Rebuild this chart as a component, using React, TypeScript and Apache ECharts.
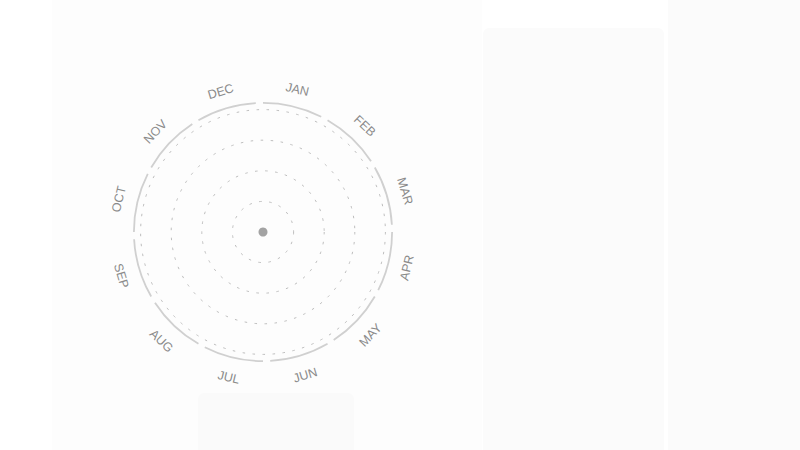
import React, { useEffect, useRef } from "react";
import * as echarts from "echarts";

const months = ["JAN", "FEB", "MAR", "APR", "MAY", "JUN", "JUL", "AUG", "SEP", "OCT", "NOV", "DEC"];
const monthWeights = [1, 1, 1, 1, 1, 1, 1, 1, 1, 1, 1, 1];
const radiusTicks = [0, 1, 2, 3, 4];
const centerPoint = [[0, "JAN"]];

export default function App() {
  const ref = useRef<HTMLDivElement>(null);
  useEffect(() => {
    if (!ref.current) return;
    const chart = echarts.init(ref.current, undefined, { renderer: "svg" });
    const center = [263, 232];
    const pad = 3.2;
    const pieData = months.map((m, i) => ({ name: m, value: monthWeights[i] }));
    chart.setOption({
      animation: false,
      backgroundColor: "#ffffff",
      graphic: [
        { type: "rect", silent: true, z: -10, shape: { x: 52, y: 0, width: 430, height: 450 }, style: { fill: "#fdfdfd" } },
        { type: "rect", silent: true, z: -9, shape: { x: 483, y: 28, width: 181, height: 430, r: 6 }, style: { fill: "#fbfbfb" } },
        { type: "rect", silent: true, z: -9, shape: { x: 668, y: 0, width: 132, height: 450 }, style: { fill: "#fbfbfb" } },
        { type: "rect", silent: true, z: -9, shape: { x: 198, y: 393, width: 156, height: 70, r: 6 }, style: { fill: "#fafafa" } },
      ],
      polar: { center, radius: 122.4 },
      angleAxis: {
        type: "category",
        data: months,
        startAngle: 90,
        show: false,
        axisLine: { show: false },
        axisTick: { show: false },
        axisLabel: { show: false },
        splitLine: { show: false },
      },
      radiusAxis: {
        type: "value",
        min: radiusTicks[0],
        max: radiusTicks[radiusTicks.length - 1],
        interval: 1,
        axisLine: { show: false },
        axisTick: { show: false },
        axisLabel: { show: false },
        splitLine: { show: true, lineStyle: { color: "#bdbdbd", width: 1, type: [2.5, 7.5] } },
      },
      series: [
        {
          type: "pie",
          silent: true,
          center,
          radius: [128.2, 130],
          startAngle: 90 + pad / 2,
          padAngle: pad,
          clockwise: true,
          label: { show: false },
          labelLine: { show: false },
          itemStyle: { color: "#d0d0d0", borderWidth: 0 },
          data: pieData,
        },
        {
          type: "pie",
          silent: true,
          center: [263, 233.5],
          radius: [137, 153],
          startAngle: 90 + pad / 2,
          padAngle: pad,
          clockwise: true,
          itemStyle: { color: "rgba(0,0,0,0)", borderWidth: 0 },
          labelLine: { show: false },
          label: {
            show: true,
            position: "inside",
            rotate: "tangential",
            formatter: "{b}",
            color: "#8a8a8a",
            fontSize: 12.5,
            fontFamily: "Liberation Sans",
          },
          data: pieData,
        },
        {
          type: "scatter",
          coordinateSystem: "polar",
          symbol: "circle",
          symbolSize: 9,
          silent: true,
          itemStyle: { color: "#8c8c8c" },
          data: centerPoint,
        },
      ],
    });
    return () => chart.dispose();
  }, []);
  return <div ref={ref} style={{ width: 800, height: 450, position: "absolute", left: 0, top: 0 }} />;
}
